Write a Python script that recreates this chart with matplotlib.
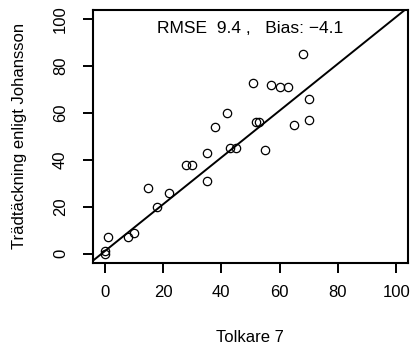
import matplotlib
matplotlib.use('Agg')
import matplotlib.pyplot as plt
import numpy as np

plt.rcParams['font.family'] = ['Liberation Sans', 'DejaVu Sans']

# Tolkare 7 (x) vs Johansson (y)
tolkare = [0, 0, 1, 8, 10, 15, 18, 22, 28, 30, 35, 35, 38, 42, 43, 45,
           51, 52, 53, 55, 57, 60, 63, 65, 68, 70, 70]
johansson = [0, 1, 7, 7, 9, 28, 20, 26, 38, 38, 43, 31, 54, 60, 45, 45,
             73, 56, 56, 44, 72, 71, 71, 55, 85, 66, 57]
ticks = [0, 20, 40, 60, 80, 100]
line_a, line_b = 1, 1

fig = plt.figure(figsize=(4.17, 3.53), dpi=100)
ax = fig.add_axes([0.223, 0.255, 0.755, 0.717])

ax.plot(tolkare, johansson, 'o', mfc='none', mec='black', ms=6, mew=0.9)
ax.axline((0, line_a), slope=line_b, color='black', lw=1.4)

ax.set_xlim(-4, 104)
ax.set_ylim(-4, 104)
ax.set_xticks(ticks)
ax.set_yticks(ticks)
ax.tick_params(axis='both', length=7, width=1.4, labelsize=12)
ax.tick_params(axis='x', pad=9)
ax.tick_params(axis='y', pad=11)
for lab in ax.get_yticklabels():
    lab.set_rotation(90)
    lab.set_va('center')
for s in ax.spines.values():
    s.set_linewidth(1.5)

ax.text(50, 96, 'RMSE  9.4 ,   Bias: \u22124.1', ha='center', va='center', fontsize=12.5)

ax.set_xlabel('Tolkare 7', fontsize=12)
ax.set_ylabel('Trädtäckning enligt Johansson', fontsize=12)
ax.xaxis.set_label_coords(0.5, -0.296)
ax.yaxis.set_label_coords(-0.232, 0.5)
ax.xaxis.label.set_va('center')
ax.yaxis.label.set_va('center')

fig.savefig('out.png', dpi=100)
